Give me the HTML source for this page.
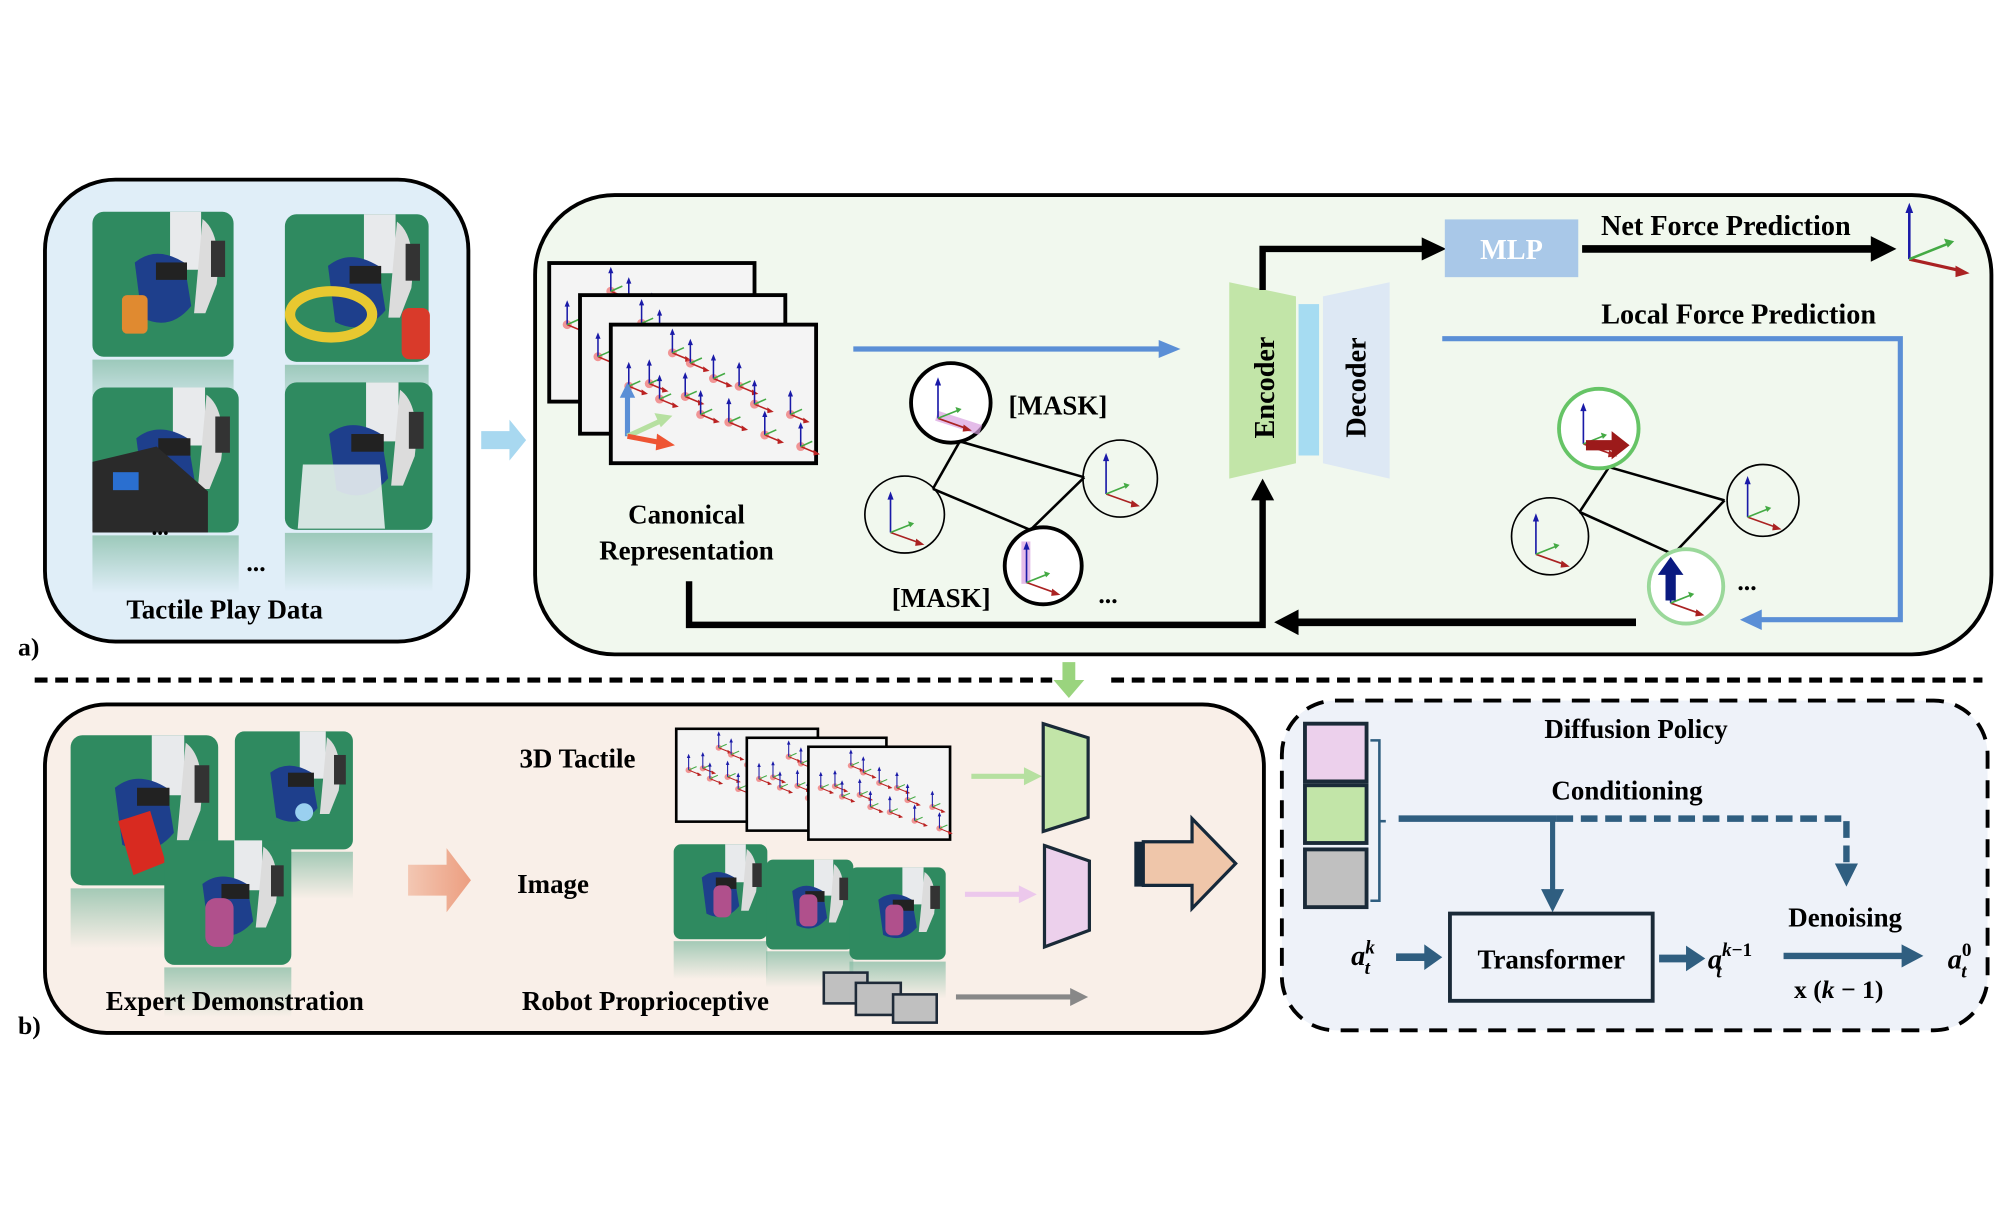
<!DOCTYPE html>
<html><head><meta charset="utf-8"><style>
html,body{margin:0;padding:0;background:#fff;}
svg{display:block;}
text{font-family:"Liberation Serif",serif;font-weight:bold;fill:#000;}
</style></head><body>
<svg width="2012" height="1226" viewBox="0 0 1568 955.5" xmlns="http://www.w3.org/2000/svg">
<defs>
<marker id="ah" viewBox="0 0 10 10" refX="5" refY="5" markerWidth="3" markerHeight="3" orient="auto"><path d="M0,0L10,5L0,10z" fill="#000"/></marker>
<marker id="ahb" viewBox="0 0 10 10" refX="5" refY="5" markerWidth="3" markerHeight="3" orient="auto"><path d="M0,0L10,5L0,10z" fill="#5b8fd6"/></marker>
<marker id="aht" viewBox="0 0 10 10" refX="5" refY="5" markerWidth="3" markerHeight="3" orient="auto"><path d="M0,0L10,5L0,10z" fill="#2f5e80"/></marker>
<marker id="sm" viewBox="0 0 10 10" refX="8" refY="5" markerWidth="4" markerHeight="4" orient="auto"><path d="M0,1L10,5L0,9z" fill="context-stroke"/></marker>
<g id="ax">
<circle cx="0" cy="0" r="3.5" fill="#e55" opacity="0.6"/>
<line x1="0" y1="0" x2="0" y2="-16" stroke="#1a1aa8" stroke-width="1.2"/><path d="M-2,-14L0,-19L2,-14z" fill="#1a1aa8"/>
<line x1="0" y1="0" x2="12" y2="5" stroke="#b22" stroke-width="1.2"/><path d="M10,2.5L15,6L10,7z" fill="#b22"/>
<line x1="0" y1="0" x2="9" y2="-4" stroke="#4a4" stroke-width="1.2"/>
</g>
<g id="bax">
<line x1="0" y1="0" x2="0" y2="-36" stroke="#1a1aa8" stroke-width="1.6"/><path d="M-3,-32L0,-40L3,-32z" fill="#1a1aa8"/>
<line x1="0" y1="0" x2="28" y2="10" stroke="#a22" stroke-width="1.6"/><path d="M25,6L33,12L24,13z" fill="#a22"/>
<line x1="0" y1="0" x2="20" y2="-8" stroke="#4a4" stroke-width="1.6"/><path d="M17,-11L23,-9L19,-5z" fill="#4a4"/>
</g>
<g id="tf">
<rect x="0" y="0" width="160" height="108" fill="#f4f4f4" stroke="#000" stroke-width="3"/>
<use href="#ax" x="14" y="48"/><use href="#ax" x="30" y="46"/><use href="#ax" x="48" y="22"/><use href="#ax" x="62" y="30"/>
<use href="#ax" x="38" y="58"/><use href="#ax" x="58" y="56"/><use href="#ax" x="80" y="42"/><use href="#ax" x="100" y="48"/>
<use href="#ax" x="70" y="70"/><use href="#ax" x="92" y="76"/><use href="#ax" x="112" y="62"/><use href="#ax" x="140" y="70"/>
<use href="#ax" x="120" y="86"/><use href="#ax" x="148" y="95"/>
</g>
<linearGradient id="refl" x1="0" y1="0" x2="0" y2="1"><stop offset="0" stop-color="#7fb9a0" stop-opacity="0.7"/><stop offset="1" stop-color="#7fb9a0" stop-opacity="0"/></linearGradient>
<g id="ph">
<rect x="0" y="0" width="100" height="100" rx="8" fill="#2f8a60"/>
<path d="M55,0 h22 v40 h-22z" fill="#e8eaec"/>
<path d="M78,5 q14,10 10,45 l-8,20 h-8z" fill="#dcdcdc"/>
<rect x="84" y="20" width="10" height="25" fill="#333"/>
<path d="M30,35 q15,-12 35,0 l5,30 q-15,18 -35,8z" fill="#1e3f8c"/>
<rect x="45" y="35" width="22" height="12" fill="#222"/>
<rect x="0" y="102" width="100" height="40" fill="url(#refl)"/>
</g>
<linearGradient id="oar" x1="0" y1="0" x2="1" y2="0"><stop offset="0" stop-color="#f3c7b3"/><stop offset="1" stop-color="#ec9e80"/></linearGradient>
</defs>

<!-- Panel a left -->
<rect x="35" y="140" width="330" height="360" rx="55" fill="#e0eef8" stroke="#000" stroke-width="3"/>
<g transform="translate(72,165) scale(1.1,1.13)"><use href="#ph"/></g>
<rect x="95" y="230" width="20" height="30" rx="4" fill="#e08a30"/>
<g transform="translate(222,167) scale(1.12,1.15)"><use href="#ph"/></g>
<ellipse cx="258" cy="245" rx="32" ry="18" fill="none" stroke="#e8c830" stroke-width="8"/>
<rect x="313" y="240" width="22" height="40" rx="6" fill="#d93a2a"/>
<g transform="translate(72,302) scale(1.14,1.13)"><use href="#ph"/></g>
<path d="M72,360 l50,-12 l40,35 v32 h-90z" fill="#2a2a2a"/><rect x="88" y="368" width="20" height="14" fill="#2a6fd0"/>
<g transform="translate(222,298) scale(1.15,1.15)"><use href="#ph"/></g>
<path d="M236,362 h60 l4,50 h-68z" fill="#e8eef0" opacity="0.9"/>
<text x="118" y="417" font-size="18">...</text>
<text x="192" y="445" font-size="20">...</text>
<text x="175" y="482" font-size="21" text-anchor="middle">Tactile Play Data</text>
<text x="14" y="511" font-size="20">a)</text>

<!-- blue arrow between -->
<path d="M375,336 h22 v-9 l13,16 l-13,16 v-9 h-22z" fill="#a8d8f0"/>

<!-- Panel a right -->
<rect x="417" y="152" width="1135" height="358" rx="62" fill="#f1f8ee" stroke="#000" stroke-width="3"/>
<use href="#tf" x="428" y="205"/>
<use href="#tf" x="452" y="230"/>
<use href="#tf" x="476" y="253"/>
<line x1="489" y1="340" x2="489" y2="308" stroke="#5b8fd6" stroke-width="4"/><path d="M483,310 L489,298 L495,310z" fill="#5b8fd6"/>
<line x1="489" y1="340" x2="515" y2="328" stroke="#b6e0a0" stroke-width="4"/><path d="M510,322 L524,324 L515,333z" fill="#b6e0a0"/>
<line x1="489" y1="340" x2="515" y2="345" stroke="#e53" stroke-width="4"/><path d="M512,338 L526,347 L511,351z" fill="#e53"/>
<text x="535" y="408" font-size="21" text-anchor="middle">Canonical</text>
<text x="535" y="436" font-size="21" text-anchor="middle">Representation</text>
<line x1="665" y1="272" x2="905" y2="272" stroke="#5b8fd6" stroke-width="4"/><path d="M903,265 L920,272 L903,279z" fill="#5b8fd6"/>

<!-- left graph -->
<g stroke="#000" stroke-width="2" fill="none">
<line x1="748" y1="344" x2="845" y2="372"/><line x1="845" y1="372" x2="803" y2="413"/>
<line x1="727" y1="381" x2="803" y2="413"/><line x1="727" y1="381" x2="748" y2="344"/>
</g>
<ellipse cx="741" cy="314" rx="31" ry="31" fill="#fff" stroke="#000" stroke-width="3"/>
<ellipse cx="705" cy="401" rx="31" ry="30" fill="none" stroke="#000" stroke-width="1.3"/>
<ellipse cx="873" cy="373" rx="29" ry="30" fill="none" stroke="#000" stroke-width="1.3"/>
<ellipse cx="813" cy="441" rx="30" ry="30" fill="#fff" stroke="#000" stroke-width="3"/>
<rect x="730" y="320" width="36" height="8" fill="#d9a0e0" opacity="0.7" transform="rotate(18 730 324)"/>
<rect x="796" y="422" width="7" height="33" fill="#d9a0e0" opacity="0.7"/>
<use href="#bax" x="731" y="326" transform="translate(731 326) scale(0.8) translate(-731 -326)"/>
<use href="#bax" x="694" y="415" transform="translate(694 415) scale(0.8) translate(-694 -415)"/>
<use href="#bax" x="862" y="385" transform="translate(862 385) scale(0.8) translate(-862 -385)"/>
<use href="#bax" x="800" y="454" transform="translate(800 454) scale(0.8) translate(-800 -454)"/>
<text x="786" y="323" font-size="21">[MASK]</text>
<text x="695" y="473" font-size="21">[MASK]</text>
<text x="856" y="470" font-size="20">...</text>

<!-- Encoder/Decoder -->
<path d="M958,220 L1010,231 L1010,361 L958,373z" fill="#c2e5a8"/>
<rect x="1012" y="237" width="16" height="118" fill="#a6dcf2"/>
<path d="M1031,231 L1083,220 L1083,373 L1031,361z" fill="#dde8f4"/>
<text transform="translate(993,302) rotate(-90)" font-size="22" text-anchor="middle" font-family="DejaVu Serif,serif">Encoder</text>
<text transform="translate(1064,302) rotate(-90)" font-size="22" text-anchor="middle" font-family="DejaVu Serif,serif">Decoder</text>

<!-- MLP path -->
<polyline points="984,226 984,194 1112,194" fill="none" stroke="#000" stroke-width="5"/>
<path d="M1108,185 L1127,194 L1108,203z" fill="#000"/>
<rect x="1126" y="171" width="104" height="45" fill="#a9c8e8"/>
<text x="1178" y="202" font-size="22" text-anchor="middle" style="fill:#fff">MLP</text>
<text x="1345" y="183" font-size="22" text-anchor="middle">Net Force Prediction</text>
<line x1="1233" y1="194" x2="1462" y2="194" stroke="#000" stroke-width="6"/>
<path d="M1458,184 L1478,194 L1458,204z" fill="#000"/>
<g transform="translate(1488,202)">
<line x1="0" y1="0" x2="0" y2="-38" stroke="#1a1aa8" stroke-width="2"/><path d="M-3,-36L0,-44L3,-36z" fill="#1a1aa8"/>
<line x1="0" y1="0" x2="40" y2="9" stroke="#a22" stroke-width="2.5"/><path d="M36,5L47,11L36,14z" fill="#a22"/>
<line x1="0" y1="0" x2="30" y2="-12" stroke="#4a4" stroke-width="2"/><path d="M27,-16L35,-14L30,-9z" fill="#4a4"/>
</g>
<text x="1355" y="252" font-size="22" text-anchor="middle">Local Force Prediction</text>
<polyline points="1124,264 1481,264 1481,483 1370,483" fill="none" stroke="#5b8fd6" stroke-width="4"/>
<path d="M1373,475 L1356,483 L1373,491z" fill="#5b8fd6"/>

<!-- right graph -->
<g stroke="#000" stroke-width="2" fill="none">
<line x1="1254" y1="364" x2="1344" y2="390"/><line x1="1344" y1="390" x2="1304" y2="432"/>
<line x1="1231" y1="399" x2="1304" y2="432"/><line x1="1231" y1="399" x2="1254" y2="364"/>
</g>
<ellipse cx="1246" cy="334" rx="31" ry="31" fill="#fff" stroke="#66c466" stroke-width="3"/>
<ellipse cx="1374" cy="390" rx="28" ry="28" fill="none" stroke="#000" stroke-width="1.3"/>
<ellipse cx="1208" cy="418" rx="30" ry="30" fill="none" stroke="#000" stroke-width="1.3"/>
<ellipse cx="1314" cy="457" rx="29" ry="29" fill="#fff" stroke="#9ad89a" stroke-width="3"/>
<use href="#bax" transform="translate(1234 346) scale(0.8)"/>
<path d="M1236,343 h20 v-7 l14,11 l-14,11 v-7 h-20z" fill="#9c1a1a"/>
<use href="#bax" transform="translate(1362 403) scale(0.8)"/>
<use href="#bax" transform="translate(1197 432) scale(0.8)"/>
<use href="#bax" transform="translate(1302 470) scale(0.8)"/>
<path d="M1298,468 v-20 h-6 l10,-14 l10,14 h-6 v20z" fill="#0a1a80"/>
<text x="1354" y="460" font-size="20">...</text>

<!-- bottom loop -->
<polyline points="537,453 537,487 984,487 984,388" fill="none" stroke="#000" stroke-width="5"/>
<path d="M975,390 L984,373 L993,390z" fill="#000"/>
<line x1="1275" y1="485" x2="1010" y2="485" stroke="#000" stroke-width="6"/>
<path d="M1012,475 L993,485 L1012,495z" fill="#000"/>

<!-- separator -->
<line x1="27" y1="530" x2="820" y2="530" stroke="#000" stroke-width="4" stroke-dasharray="10,6"/>
<line x1="866" y1="530" x2="1545" y2="530" stroke="#000" stroke-width="4" stroke-dasharray="10,6"/>
<path d="M828,516 h10 v14 h7 l-12,14 l-12,-14 h7z" fill="#9ad47e"/>

<!-- Panel b left -->
<rect x="35" y="549" width="950" height="256" rx="48" fill="#f9efe8" stroke="#000" stroke-width="3"/>
<g transform="translate(55,573) scale(1.15,1.17)"><use href="#ph"/></g>
<path d="M92,640 l25,-8 l12,40 l-25,10z" fill="#d82a20"/>
<g transform="translate(183,570) scale(0.92,0.92)"><use href="#ph"/></g>
<circle cx="237" cy="633" r="7" fill="#9ad0f0"/>
<g transform="translate(128,655) scale(0.99,0.97)"><use href="#ph"/></g>
<rect x="160" y="700" width="22" height="38" rx="8" fill="#b0508c"/>
<text x="183" y="787" font-size="21" text-anchor="middle">Expert Demonstration</text>
<path d="M318,674 h30 v-13 l19,25 l-19,25 v-13 h-30z" fill="url(#oar)"/>
<text x="450" y="598" font-size="21" text-anchor="middle">3D Tactile</text>
<text x="431" y="696" font-size="21" text-anchor="middle">Image</text>
<text x="503" y="787" font-size="21" text-anchor="middle">Robot Proprioceptive</text>
<g transform="translate(527,568) scale(0.69,0.67)"><use href="#tf"/></g>
<g transform="translate(582,575) scale(0.68,0.67)"><use href="#tf"/></g>
<g transform="translate(630,582) scale(0.69,0.67)"><use href="#tf"/></g>
<g transform="translate(525,658) scale(0.73,0.74)"><use href="#ph"/></g>
<rect x="556" y="690" width="14" height="25" rx="5" fill="#b0508c"/>
<g transform="translate(597,670) scale(0.68,0.70)"><use href="#ph"/></g>
<rect x="623" y="697" width="14" height="25" rx="5" fill="#b0508c"/>
<g transform="translate(662,676) scale(0.75,0.72)"><use href="#ph"/></g>
<rect x="690" y="705" width="14" height="24" rx="5" fill="#b0508c"/>
<rect x="642" y="758" width="34" height="24" fill="#c0c0c0" stroke="#1e2a38" stroke-width="2"/>
<rect x="667" y="766" width="35" height="25" fill="#c0c0c0" stroke="#1e2a38" stroke-width="2"/>
<rect x="696" y="775" width="34" height="22" fill="#c0c0c0" stroke="#1e2a38" stroke-width="2"/>
<line x1="757" y1="605" x2="800" y2="605" stroke="#b6e0a0" stroke-width="4"/><path d="M798,598 L812,605 L798,612z" fill="#b6e0a0"/>
<line x1="752" y1="697" x2="796" y2="697" stroke="#ecc8ec" stroke-width="4"/><path d="M794,690 L808,697 L794,704z" fill="#ecc8ec"/>
<line x1="745" y1="777" x2="836" y2="777" stroke="#888" stroke-width="4"/><path d="M834,770 L848,777 L834,784z" fill="#888"/>
<path d="M813,564 L848,575 L848,637 L813,648z" fill="#c2e5a8" stroke="#1a2a38" stroke-width="2.5"/>
<path d="M814,659 L849,671 L849,725 L814,738z" fill="#ecd0ec" stroke="#1a2a38" stroke-width="2.5"/>
<rect x="884" y="656" width="6" height="35" fill="#15283a"/>
<path d="M891,656 h38 v-18 l34,35 l-34,35 v-18 h-38z" fill="#efc6aa" stroke="#15283a" stroke-width="2.5"/>
<text x="14" y="806" font-size="20">b)</text>

<!-- Panel b right -->
<rect x="999" y="546" width="550" height="257" rx="42" fill="#eef2f9" stroke="#000" stroke-width="3" stroke-dasharray="14,9"/>
<rect x="1017" y="564" width="48" height="45" fill="#ecd0ec" stroke="#1a2a38" stroke-width="3"/>
<rect x="1017" y="612" width="48" height="45" fill="#c2e5a8" stroke="#1a2a38" stroke-width="3"/>
<rect x="1017" y="662" width="48" height="45" fill="#c0c0c0" stroke="#1a2a38" stroke-width="3"/>
<polyline points="1068,577 1075,577 1075,702 1068,702" fill="none" stroke="#2f5e80" stroke-width="2"/>
<line x1="1075" y1="640" x2="1080" y2="640" stroke="#2f5e80" stroke-width="2"/>
<text x="1275" y="575" font-size="21" text-anchor="middle">Diffusion Policy</text>
<text x="1268" y="623" font-size="21" text-anchor="middle">Conditioning</text>
<line x1="1090" y1="638" x2="1213" y2="638" stroke="#2f5e80" stroke-width="5"/>
<polyline points="1213,638 1439,638 1439,672" fill="none" stroke="#2f5e80" stroke-width="5" stroke-dasharray="13,6"/>
<path d="M1430,673 L1439,691 L1448,673z" fill="#2f5e80"/>
<line x1="1210" y1="638" x2="1210" y2="695" stroke="#2f5e80" stroke-width="4"/>
<path d="M1201,693 L1210,711 L1219,693z" fill="#2f5e80"/>
<rect x="1130" y="712" width="158" height="68" fill="none" stroke="#1a2a38" stroke-width="3"/>
<text x="1209" y="755" font-size="21" text-anchor="middle">Transformer</text>
<text x="1438" y="722" font-size="21" text-anchor="middle">Denoising</text>
<text x="1433" y="778" font-size="20" text-anchor="middle">x (<tspan font-style="italic">k</tspan> − 1)</text>
<line x1="1088" y1="746" x2="1112" y2="746" stroke="#2f5e80" stroke-width="6"/><path d="M1110,736 L1124,746 L1110,756z" fill="#2f5e80"/>
<line x1="1293" y1="747" x2="1316" y2="747" stroke="#2f5e80" stroke-width="6"/><path d="M1314,737 L1329,747 L1314,757z" fill="#2f5e80"/>
<line x1="1390" y1="745" x2="1485" y2="745" stroke="#2f5e80" stroke-width="5"/><path d="M1482,736 L1499,745 L1482,754z" fill="#2f5e80"/>
<text x="1053" y="752" font-size="22" font-style="italic">a<tspan font-size="15" dy="-9">k</tspan><tspan font-size="15" dx="-8" dy="16">t</tspan></text>
<text x="1331" y="755" font-size="22" font-style="italic">a<tspan font-size="15" dy="-10">k</tspan><tspan font-size="15" font-style="normal">−1</tspan><tspan font-size="15" dx="-28" dy="17">t</tspan></text>
<text x="1518" y="755" font-size="22" font-style="italic">a<tspan font-size="15" font-style="normal" dy="-10">0</tspan><tspan font-size="15" dx="-8" dy="17">t</tspan></text>
</svg>
</body></html>
